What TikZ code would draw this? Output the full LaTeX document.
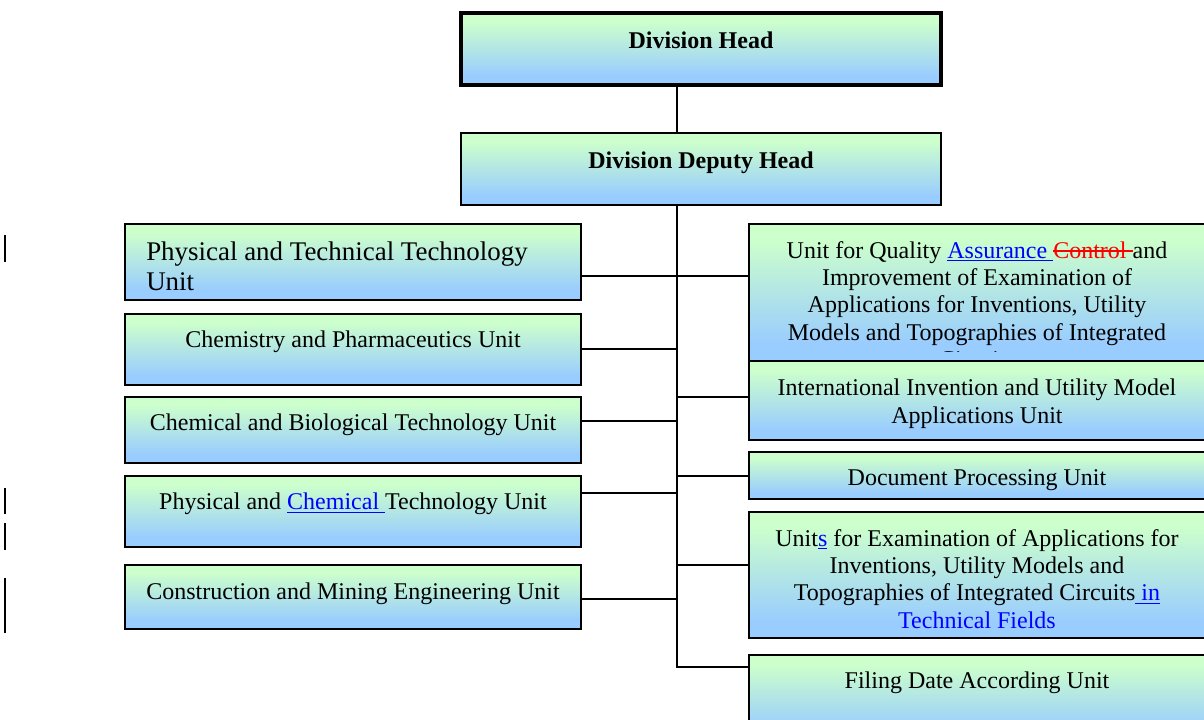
\documentclass[tikz,border=0pt]{standalone}
\usepackage{fontspec}
\setmainfont{Liberation Serif}
\usetikzlibrary{fit}
\definecolor{boxgreen}{RGB}{204,255,204}
\definecolor{boxblue}{RGB}{153,204,255}
\definecolor{linkblue}{RGB}{0,0,255}
\definecolor{delred}{RGB}{255,0,0}
\pgfdeclareverticalshading{gbshade}{100bp}{color(0bp)=(boxblue); color(31bp)=(boxblue); color(69bp)=(boxgreen); color(100bp)=(boxgreen)}
\newsavebox\markbox
\newcommand{\myul}[1]{\sbox\markbox{#1}\rlap{\rule[-0.13em]{\wd\markbox}{0.055em}}\usebox\markbox}
\newcommand{\mystrike}[1]{\sbox\markbox{#1}\rlap{\rule[0.27em]{\wd\markbox}{0.055em}}\usebox\markbox}
\begin{document}
\begin{tikzpicture}[x=0.75pt,y=-0.75pt,
  box/.style={draw=black, line width=1.8pt, shading=gbshade, inner sep=0pt},
  headbox/.style={box, line width=2.3pt},
  lbl/.style={font=\fontsize{18}{20.5}\selectfont, align=center, inner sep=0pt, anchor=north},
  biglbl/.style={font=\fontsize{20.2}{22.5}\selectfont, align=left, inner sep=0pt, anchor=north west},
  boldlbl/.style={lbl, font=\bfseries\fontsize{18}{20.5}\selectfont},
  conn/.style={line width=1.5pt},
  thickconn/.style={line width=2.2pt},
  marginbar/.style={line width=1.5pt}]
\useasboundingbox (0,0) rectangle (1204,720);

% trunk coordinates
\coordinate (t) at (677,0);
\coordinate (tend) at (677,667);
\coordinate (c1) at (677,276);
\coordinate (c2) at (677,349);
\coordinate (c3) at (677,421);
\coordinate (c4) at (677,493);
\coordinate (c5) at (677,599);
\coordinate (r2) at (677,397);
\coordinate (r3) at (677,476);
\coordinate (r4) at (677,565);

% boxes
\node[headbox, fit={(461,13) (941,85)}] (head) {};
\node[boldlbl] (headt) at (701,32) {Division Head};
\node[box, fit={(461,133) (941,205)}] (dep) {};
\node[boldlbl] (dept) at (701,152) {Division Deputy Head};

\node[box, fit={(125,224) (581,300)}] (L1) {};
\node[biglbl] (L1t) at (146,242) {Physical and Technical Technology\\Unit};
\node[box, fit={(125,314) (581,385)}] (L2) {};
\node[lbl] (L2t) at (353,331) {Chemistry and Pharmaceutics Unit};
\node[box, fit={(125,397) (581,463)}] (L3) {};
\node[lbl] (L3t) at (353,414) {Chemical and Biological Technology Unit};
\node[box, fit={(125,476) (581,547)}] (L4) {};
\node[lbl] (L4t) at (353,493) {Physical and \textcolor{linkblue}{\myul{Chemical }}Technology Unit};
\node[box, fit={(125,565) (581,629)}] (L5) {};
\node[lbl] (L5t) at (353,583) {Construction and Mining Engineering Unit};

\node[box, fit={(749,224) (1206,361)}] (R1) {};
\begin{scope}
\clip (749,224) rectangle (1206,352);
\node[lbl] (R1t) at (977,241) {Unit for Quality \textcolor{linkblue}{\myul{Assurance }}\textcolor{delred}{\mystrike{Control }}and\\Improvement of Examination of\\Applications for Inventions, Utility\\Models and Topographies of Integrated\\Circuits};
\end{scope}
\node[box, fit={(749,361) (1206,440)}] (R2) {};
\node[lbl] (R2t) at (977,379) {International Invention and Utility Model\\Applications Unit};
\node[box, fit={(749,452) (1206,499)}] (R3) {};
\node[lbl] (R3t) at (977,469) {Document Processing Unit};
\node[box, fit={(749,512) (1206,638)}] (R4) {};
\node[lbl] (R4t) at (977,529) {Unit\textcolor{linkblue}{\myul{s}} for Examination of Applications for\\Inventions, Utility Models and\\Topographies of Integrated Circuits\textcolor{linkblue}{\myul{ in}}\\\textcolor{linkblue}{Technical Fields}};
\node[box, fit={(749,655) (1206,740)}] (R5) {};
\node[lbl] (R5t) at (977,672) {Filing Date According Unit};

% connectors
\draw[conn] (head.south -| t) -- (dep.north -| t);
\draw[conn] (dep.south -| t) -- (tend) -- (tend -| R5.west);
\draw[conn] (c1 -| L1.east) -- (c1 -| R1.west);
\draw[conn] (c2 -| L2.east) -- (c2);
\draw[conn] (c3 -| L3.east) -- (c3);
\draw[conn] (c4 -| L4.east) -- (c4);
\draw[thickconn] (c5 -| L5.east) -- (c5);
\draw[conn] (r2) -- (r2 -| R2.west);
\draw[conn] (r3) -- (r3 -| R3.west);
\draw[conn] (r4) -- (r4 -| R4.west);

% margin change bars
\draw[marginbar] (5,235) -- (5,262);
\draw[marginbar] (5,488) -- (5,514);
\draw[marginbar] (5,523) -- (5,550);
\draw[marginbar] (5,578) -- (5,633);
\end{tikzpicture}
\end{document}
